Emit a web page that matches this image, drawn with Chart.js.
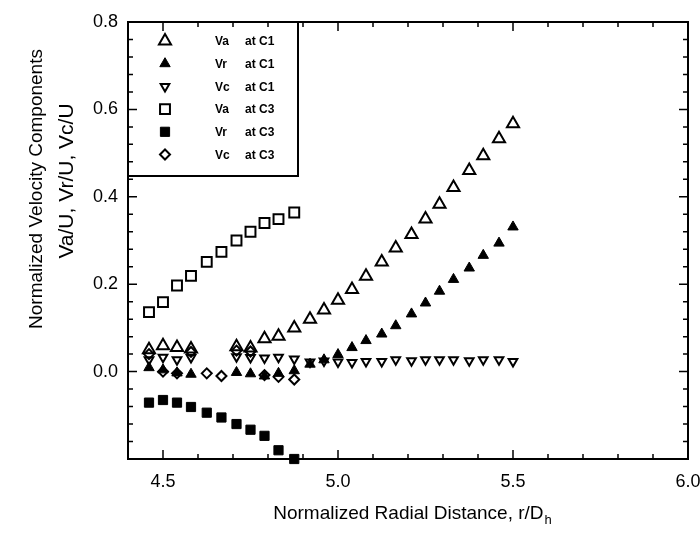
<!DOCTYPE html>
<html>
<head>
<meta charset="utf-8">
<script src="https://cdn.jsdelivr.net/npm/chart.js@4.4.1/dist/chart.umd.min.js"></script>
<style>
  html, body { margin: 0; padding: 0; background: #fff; }
</style>
</head>
<body>
<canvas id="velocity-chart" width="700" height="537"></canvas>
<script>
// 量測位置 r/Dh
const rC1 = [4.46, 4.50, 4.54, 4.58, 4.71, 4.75, 4.79, 4.83, 4.875, 4.92, 4.96, 5.00,
  5.04, 5.08, 5.125, 5.165, 5.21, 5.25, 5.29, 5.33, 5.375, 5.415, 5.46, 5.50];
const rC3 = [4.46, 4.50, 4.54, 4.58, 4.625, 4.667, 4.71, 4.75, 4.79, 4.83, 4.875];

// C1 速度分量
const vaC1 = [0.050, 0.059, 0.055, 0.052, 0.057, 0.054, 0.075, 0.081, 0.100, 0.120, 0.141, 0.163,
  0.188, 0.218, 0.251, 0.283, 0.314, 0.349, 0.383, 0.421, 0.460, 0.494, 0.533, 0.567];
const vrC1 = [0.009, 0.004, -0.003, -0.006, -0.002, -0.005, -0.010, -0.004, 0.002, 0.017, 0.027, 0.039,
  0.055, 0.071, 0.086, 0.105, 0.132, 0.157, 0.184, 0.211, 0.237, 0.266, 0.294, 0.331];
const vcC1 = [0.027, 0.033, 0.027, 0.032, 0.034, 0.032, 0.031, 0.033, 0.029, 0.022, 0.024, 0.022,
  0.021, 0.023, 0.023, 0.027, 0.025, 0.027, 0.027, 0.027, 0.025, 0.027, 0.027, 0.023];

// C3 速度分量
const vaC3 = [0.136, 0.159, 0.197, 0.219, 0.251, 0.274, 0.300, 0.320, 0.340, 0.349, 0.364];
const vrC3 = [-0.071, -0.065, -0.071, -0.081, -0.094, -0.105, -0.120, -0.133, -0.147, -0.180, -0.200];
const vcC3 = [0.040, 0.000, -0.004, 0.045, -0.004, -0.010, 0.048, 0.046, -0.008, -0.012, -0.018];

// 圖例文字
const legendNames = ["Va", "Vr", "Vc", "Va", "Vr", "Vc"];
const legendSites = ["C1", "C1", "C1", "C3", "C3", "C3"];

const FONT = "'Liberation Sans', Arial, Helvetica, sans-serif";

const toPoints = (xs, ys) => xs.map((x, i) => ({ x, y: ys[i] }));
const isMultiple = (v, step) => Math.abs(v / step - Math.round(v / step)) < 1e-6;

const openStyle = { borderColor: "#000", backgroundColor: "rgba(0,0,0,0)", borderWidth: 2 };
const filledStyle = { borderColor: "#000", backgroundColor: "#000", borderWidth: 1 };

const datasets = [
  { data: toPoints(rC1, vaC1), pointStyle: "triangle", pointRadius: 7, ...openStyle },
  { data: toPoints(rC1, vrC1), pointStyle: "triangle", pointRadius: 6, ...filledStyle },
  { data: toPoints(rC1, vcC1), pointStyle: "triangle", pointRotation: 180, pointRadius: 5, ...openStyle },
  { data: toPoints(rC3, vaC3), pointStyle: "rect", pointRadius: 7, ...openStyle },
  { data: toPoints(rC3, vrC3), pointStyle: "rect", pointRadius: 6.5, ...filledStyle },
  { data: toPoints(rC3, vcC3), pointStyle: "rectRot", pointRadius: 5, ...openStyle },
].map((ds, i) => ({
  ...ds,
  label: `${legendNames[i]} at ${legendSites[i]}`,
  showLine: false,
  clip: false,
  pointBorderColor: ds.borderColor,
  pointBackgroundColor: ds.backgroundColor,
  pointBorderWidth: ds.borderWidth,
}));

// 外框、刻度、標題與圖例
const framePlugin = {
  id: "frame",
  beforeDatasetsDraw(chart) {
    const { ctx, chartArea: a, scales } = chart;
    ctx.save();
    ctx.strokeStyle = "#000";
    ctx.lineWidth = 2;
    ctx.strokeRect(a.left, a.top, a.right - a.left, a.bottom - a.top);

    ctx.lineWidth = 1.5;
    ctx.beginPath();
    scales.x.ticks.forEach((t) => {
      const px = scales.x.getPixelForValue(t.value);
      const len = isMultiple(t.value, 0.5) ? 9 : 5;
      ctx.moveTo(px, a.bottom);
      ctx.lineTo(px, a.bottom - len);
      ctx.moveTo(px, a.top);
      ctx.lineTo(px, a.top + len);
    });
    scales.y.ticks.forEach((t) => {
      const py = scales.y.getPixelForValue(t.value);
      const len = isMultiple(t.value, 0.2) ? 9 : 5;
      ctx.moveTo(a.left, py);
      ctx.lineTo(a.left + len, py);
      ctx.moveTo(a.right, py);
      ctx.lineTo(a.right - len, py);
    });
    ctx.stroke();
    ctx.restore();
  },
  afterDraw(chart) {
    const { ctx, chartArea: a } = chart;
    ctx.save();
    ctx.fillStyle = "#000";

    // y 軸標題
    ctx.textAlign = "center";
    ctx.textBaseline = "middle";
    ctx.save();
    ctx.translate(37, 189);
    ctx.rotate(-Math.PI / 2);
    ctx.font = `19px ${FONT}`;
    ctx.fillText("Normalized Velocity Components", 0, 0);
    ctx.restore();
    ctx.save();
    ctx.translate(67, 181);
    ctx.rotate(-Math.PI / 2);
    ctx.font = `21px ${FONT}`;
    ctx.fillText("Va/U, Vr/U, Vc/U", 0, 0);
    ctx.restore();

    // x 軸標題 (含下標 h)
    const main = "Normalized Radial Distance, r/D";
    ctx.font = `19px ${FONT}`;
    const mainW = ctx.measureText(main).width;
    ctx.font = `13px ${FONT}`;
    const subW = ctx.measureText("h").width;
    const startX = (a.left + a.right) / 2 + 4 - (mainW + subW) / 2;
    ctx.textAlign = "left";
    ctx.textBaseline = "alphabetic";
    ctx.font = `19px ${FONT}`;
    ctx.fillText(main, startX, 519);
    ctx.font = `13px ${FONT}`;
    ctx.fillText("h", startX + mainW + 1, 524);

    // 圖例框
    const boxW = 170;
    const boxH = 154;
    ctx.strokeStyle = "#000";
    ctx.lineWidth = 2;
    ctx.strokeRect(a.left, a.top, boxW, boxH);

    const drawPoint = Chart.helpers && Chart.helpers.drawPoint;
    chart.data.datasets.forEach((ds, i) => {
      const y = a.top + 19 + i * 22.7;
      if (drawPoint) {
        ctx.save();
        ctx.strokeStyle = ds.pointBorderColor;
        ctx.fillStyle = ds.pointBackgroundColor;
        ctx.lineWidth = ds.pointBorderWidth;
        drawPoint(ctx, {
          pointStyle: ds.pointStyle,
          rotation: ds.pointRotation || 0,
          radius: ds.pointRadius,
          borderWidth: ds.pointBorderWidth,
        }, a.left + 37, y);
        ctx.restore();
      }
      ctx.fillStyle = "#000";
      ctx.font = `bold 12px ${FONT}`;
      ctx.textBaseline = "middle";
      ctx.fillText(legendNames[i], a.left + 87, y + 1);
      ctx.fillText(`at ${legendSites[i]}`, a.left + 117, y + 1);
    });
    ctx.restore();
  },
};

const chartCanvas = document.getElementById("velocity-chart");
new Chart(chartCanvas, {
  type: "scatter",
  data: { datasets },
  options: {
    responsive: false,
    animation: false,
    events: [],
    layout: { padding: { top: 22, right: 12, left: 0, bottom: 0 } },
    plugins: {
      legend: { display: false },
      tooltip: { enabled: false },
    },
    scales: {
      x: {
        type: "linear",
        min: 4.4,
        max: 6.0,
        grid: { display: false, drawTicks: false },
        border: { display: false },
        ticks: {
          stepSize: 0.1,
          autoSkip: false,
          maxRotation: 0,
          padding: 12,
          color: "#000",
          font: { family: FONT, size: 18 },
          callback: (v) => (isMultiple(v, 0.5) ? Number(v).toFixed(1) : ""),
        },
        afterFit: (s) => {
          s.height = 78;
          s.paddingLeft = 0;
          s.paddingRight = 0;
        },
      },
      y: {
        type: "linear",
        min: -0.2,
        max: 0.8,
        grid: { display: false, drawTicks: false },
        border: { display: false },
        ticks: {
          stepSize: 0.04,
          autoSkip: false,
          padding: 10,
          color: "#000",
          font: { family: FONT, size: 18 },
          callback: (v) => (isMultiple(v, 0.2) && v > -0.1 ? Number(v).toFixed(1) : ""),
        },
        afterFit: (s) => {
          s.width = 128;
          s.paddingTop = 0;
          s.paddingBottom = 0;
        },
      },
    },
  },
  plugins: [framePlugin],
});
</script>
</body>
</html>
